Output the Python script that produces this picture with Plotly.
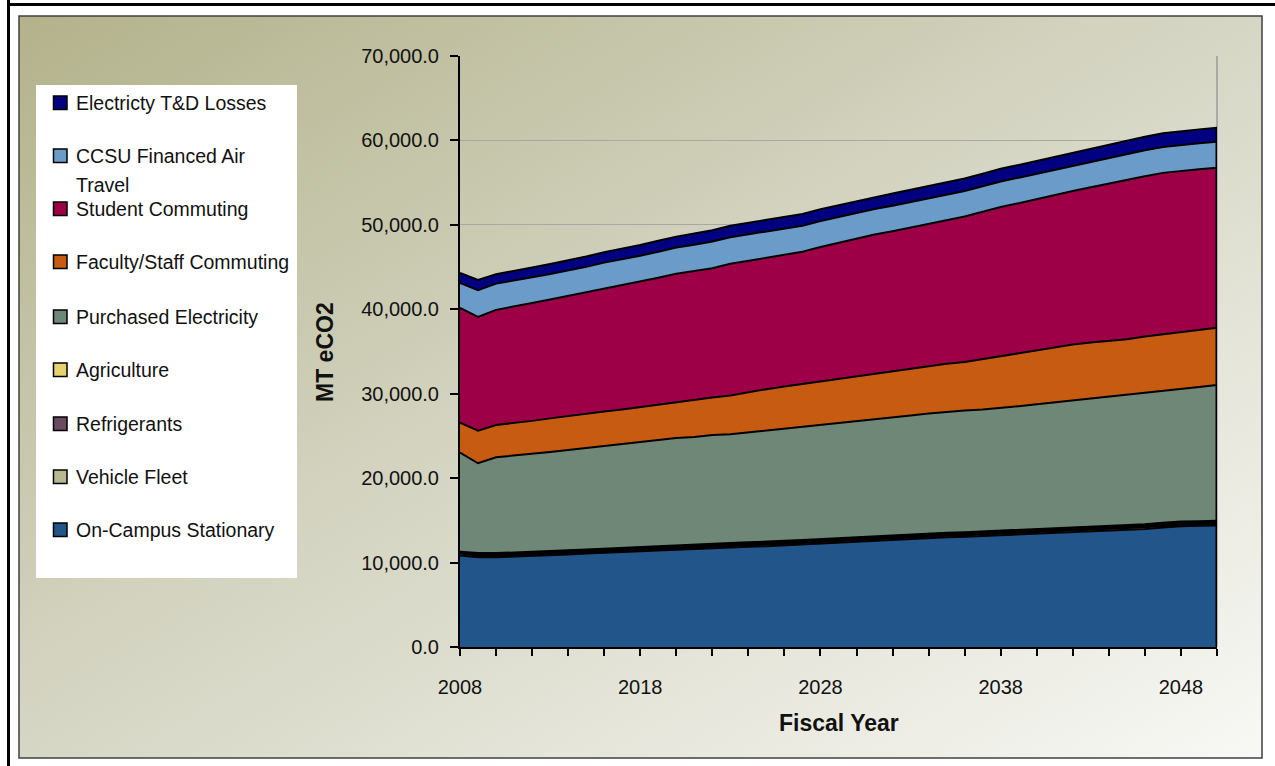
import base64
import plotly.graph_objects as go

# ---------------- data (MT eCO2) ----------------
years = list(range(2008, 2051))

on_campus_stationary = [10840, 10640, 10640, 10700, 10760, 10860, 10960, 11060, 11160, 11250,
                        11350, 11450, 11550, 11650, 11750, 11820, 11880, 11940, 12050, 12160,
                        12270, 12380, 12480, 12580, 12680, 12800, 12920, 13000, 13060, 13150,
                        13240, 13340, 13440, 13540, 13640, 13710, 13790, 13890, 13990, 14150,
                        14300, 14350, 14390]
vehicle_fleet = [300, 200, 200, 200, 200, 205, 205, 205, 210, 210,
                 210, 210, 215, 215, 215, 215, 220, 220, 220, 220,
                 225, 225, 225, 225, 225, 230, 230, 230, 230, 230,
                 235, 235, 235, 235, 235, 238, 238, 238, 240, 240,
                 240, 240, 240]
refrigerants = [50, 140, 140, 141, 142, 143, 144, 145, 146, 147,
                148, 149, 150, 151, 152, 153, 154, 155, 156, 157,
                158, 159, 160, 160, 161, 161, 162, 162, 163, 163,
                164, 164, 165, 165, 166, 166, 167, 167, 168, 168,
                169, 169, 170]
agriculture = [20, 80, 80, 80, 80, 81, 81, 81, 82, 82,
               82, 83, 83, 83, 84, 84, 84, 85, 85, 85,
               86, 86, 86, 87, 87, 87, 88, 88, 88, 88,
               89, 89, 89, 89, 90, 90, 90, 90, 90, 90,
               90, 90, 90]
purchased_electricity = [11820, 10700, 11410, 11540, 11680, 11810, 11940, 12080, 12240, 12370,
                         12520, 12630, 12750, 12780, 12910, 12920, 13070, 13220, 13330, 13440,
                         13540, 13640, 13760, 13890, 14020, 14130, 14270, 14400, 14480, 14510,
                         14570, 14690, 14810, 14930, 15050, 15190, 15330, 15450, 15590, 15660,
                         15760, 15940, 16150]
faculty_staff_commuting = [3550, 3860, 3830, 3860, 3920, 3980, 4040, 4050, 4050, 4080,
                           4120, 4140, 4200, 4350, 4450, 4600, 4800, 4920, 5020, 5100,
                           5160, 5250, 5380, 5470, 5540, 5600, 5630, 5660, 5730, 5950,
                           6150, 6300, 6450, 6550, 6650, 6680, 6650, 6620, 6700, 6720,
                           6740, 6760, 6780]
student_commuting = [13590, 13480, 13630, 13780, 13960, 14070, 14200, 14370, 14590, 14700,
                     14830, 15080, 15260, 15270, 15290, 15600, 15550, 15570, 15600, 15650,
                     15930, 16120, 16320, 16450, 16540, 16700, 16810, 17010, 17250, 17470,
                     17670, 17750, 17830, 18010, 18180, 18390, 18650, 18910, 18990, 19130,
                     19110, 19040, 18940]
ccsu_air_travel = [2950, 3160, 3110, 3080, 3050, 3040, 3020, 3030, 3050, 3060,
                   3080, 3080, 3100, 3150, 3180, 3150, 3120, 3100, 3100, 3080,
                   3080, 3050, 3020, 3020, 3010, 3000, 3000, 3000, 3000, 3010,
                   3020, 3020, 3030, 3030, 3040, 3040, 3050, 3050, 3060, 3060,
                   3070, 3070, 3070]
electricity_td_losses = [1190, 1210, 1110, 1140, 1160, 1180, 1200, 1220, 1240, 1250,
                         1270, 1290, 1300, 1320, 1340, 1350, 1360, 1370, 1380, 1390,
                         1400, 1410, 1420, 1430, 1440, 1450, 1460, 1470, 1480, 1490,
                         1500, 1510, 1520, 1540, 1550, 1570, 1580, 1590, 1610, 1620,
                         1630, 1650, 1660]

series_names = ["On-Campus Stationary", "Vehicle Fleet", "Refrigerants", "Agriculture",
                "Purchased Electricity", "Faculty/Staff Commuting", "Student Commuting",
                "CCSU Financed Air Travel", "Electricty T&D Losses"]
series_values = [on_campus_stationary, vehicle_fleet, refrigerants, agriculture,
                 purchased_electricity, faculty_staff_commuting, student_commuting,
                 ccsu_air_travel, electricity_td_losses]
series_colors = ["#22568A", "#B8B893", "#6A4A60", "#E6D26E",
                 "#6F8776", "#C85B12", "#9E0048", "#6A9BC9", "#000080"]
series_line_widths = [2, 3, 3, 3, 2, 2, 2, 2, 2]

x_tick_labels = ["2008", "2018", "2028", "2038", "2048"]

# ---------------- geometry helpers (page pixels -> paper) ----------------
W, H = 1275, 766
L, R, T, B = 460, 1217, 56, 647


def xp(px):
    return (px - L) / (R - L)


def yp(py):
    return (B - py) / (B - T)


FONT = "Liberation Sans, Arial, sans-serif"

fig = go.Figure()
for name, vals, col, lw in zip(series_names, series_values, series_colors, series_line_widths):
    fig.add_trace(go.Scatter(
        x=years, y=vals, name=name, mode="lines", stackgroup="one",
        line=dict(color="black", width=lw), fillcolor=col, showlegend=False,
        hoverinfo="x+y+name"))

# gradient background image for the chart area
svg = ("<svg xmlns='http://www.w3.org/2000/svg' width='1243' height='742' preserveAspectRatio='none'>"
       "<defs><linearGradient id='g' x1='0' y1='0' x2='1' y2='1'>"
       "<stop offset='0' stop-color='#B3B28B'/>"
       "<stop offset='0.45' stop-color='#D3D3C0'/>"
       "<stop offset='1' stop-color='#F8F8F5'/>"
       "</linearGradient></defs>"
       "<rect width='1243' height='742' fill='url(#g)'/></svg>")
src = "data:image/svg+xml;base64," + base64.b64encode(svg.encode()).decode()
images = [dict(source=src, xref="paper", yref="paper", x=xp(19), y=yp(16),
               sizex=xp(1262) - xp(19), sizey=yp(16) - yp(758),
               xanchor="left", yanchor="top", sizing="stretch", layer="below")]

shapes = []
# inner frame of chart area
shapes.append(dict(type="rect", xref="paper", yref="paper", x0=xp(19), x1=xp(1262),
                   y0=yp(758), y1=yp(16), line=dict(color="#404040", width=1.5), layer="above"))
# outer black frame
shapes.append(dict(type="line", xref="paper", yref="paper", x0=xp(8.5), x1=xp(8.5),
                   y0=yp(0), y1=yp(766), line=dict(color="black", width=3), layer="above"))
shapes.append(dict(type="line", xref="paper", yref="paper", x0=xp(7), x1=xp(1275),
                   y0=yp(4.5), y1=yp(4.5), line=dict(color="black", width=3), layer="above"))
# plot-area right border (gray) and black right edge of the stacked data
shapes.append(dict(type="line", xref="paper", yref="paper", x0=1, x1=1, y0=0, y1=1,
                   line=dict(color="#9A9A9A", width=1.5), layer="below"))
total_last = sum(v[-1] for v in series_values)
shapes.append(dict(type="line", xref="x", yref="y", x0=years[-1], x1=years[-1], y0=0, y1=total_last,
                   line=dict(color="black", width=3), layer="above"))

# legend box (manual, to match spacing)
shapes.append(dict(type="rect", xref="paper", yref="paper", x0=xp(36), x1=xp(297),
                   y0=yp(578), y1=yp(85), fillcolor="white", line=dict(width=0), layer="above"))
legend_rows = [("Electricty T&D Losses", "#000080", 102),
               ("CCSU Financed Air", "#6A9BC9", 155),
               ("Student Commuting", "#9E0048", 208),
               ("Faculty/Staff Commuting", "#C85B12", 261),
               ("Purchased Electricity", "#6F8776", 316),
               ("Agriculture", "#E6D26E", 369),
               ("Refrigerants", "#6A4A60", 423),
               ("Vehicle Fleet", "#B8B893", 476),
               ("On-Campus Stationary", "#22568A", 529)]
annotations = []
for label, col, cy in legend_rows:
    shapes.append(dict(type="rect", xref="paper", yref="paper", x0=xp(53.5), x1=xp(67),
                       y0=yp(cy + 7.5), y1=yp(cy - 6), fillcolor=col,
                       line=dict(color="black", width=1.5), layer="above"))
    annotations.append(dict(text=label, xref="paper", yref="paper", x=xp(74), y=yp(cy + 1),
                            xanchor="left", yanchor="middle", showarrow=False,
                            font=dict(family=FONT, size=19.5, color="#111111")))
annotations.append(dict(text="Travel", xref="paper", yref="paper", x=xp(74), y=yp(185),
                        xanchor="left", yanchor="middle", showarrow=False,
                        font=dict(family=FONT, size=19.5, color="#111111")))

# axis titles
annotations.append(dict(text="<b>Fiscal Year</b>", xref="paper", yref="paper", x=xp(838.5), y=yp(723),
                        xanchor="center", yanchor="middle", showarrow=False,
                        font=dict(family=FONT, size=23, color="#111111")))
annotations.append(dict(text="<b>MT eCO2</b>", xref="paper", yref="paper", x=xp(325), y=yp(352),
                        xanchor="center", yanchor="middle", showarrow=False, textangle=-90,
                        font=dict(family=FONT, size=23, color="#111111")))

fig.update_layout(
    width=W, height=H, autosize=False,
    margin=dict(l=L, r=W - R, t=T, b=H - B, pad=0),
    paper_bgcolor="white", plot_bgcolor="white",
    images=images, shapes=shapes, annotations=annotations,
    showlegend=False,
    font=dict(family=FONT, color="#111111"),
    xaxis=dict(range=[2008, 2050], tickmode="array",
               tickvals=[int(t) for t in x_tick_labels], ticktext=x_tick_labels,
               ticks="outside", ticklen=7, tickwidth=1.5, tickcolor="black",
               ticklabelstandoff=14,
               minor=dict(tickmode="linear", tick0=2008, dtick=2, ticks="outside", ticklen=7,
                          tickwidth=1.5, tickcolor="black", showgrid=False),
               showgrid=False, zeroline=False, showline=True, linecolor="black", linewidth=2,
               tickfont=dict(family=FONT, size=20, color="#111111")),
    yaxis=dict(range=[0, 70000], dtick=10000, tick0=0, tickformat=",.1f",
               ticks="outside", ticklen=8, tickwidth=1.5, tickcolor="black",
               ticklabelstandoff=7,
               showgrid=True, gridcolor="#A8A8A8", gridwidth=1,
               zeroline=False, showline=True, linecolor="black", linewidth=2,
               tickfont=dict(family=FONT, size=20, color="#111111")),
)

fig.write_html("out.html", config={"displayModeBar": False},
               post_script="document.body.style.margin='0px';document.body.style.overflow='hidden';")
